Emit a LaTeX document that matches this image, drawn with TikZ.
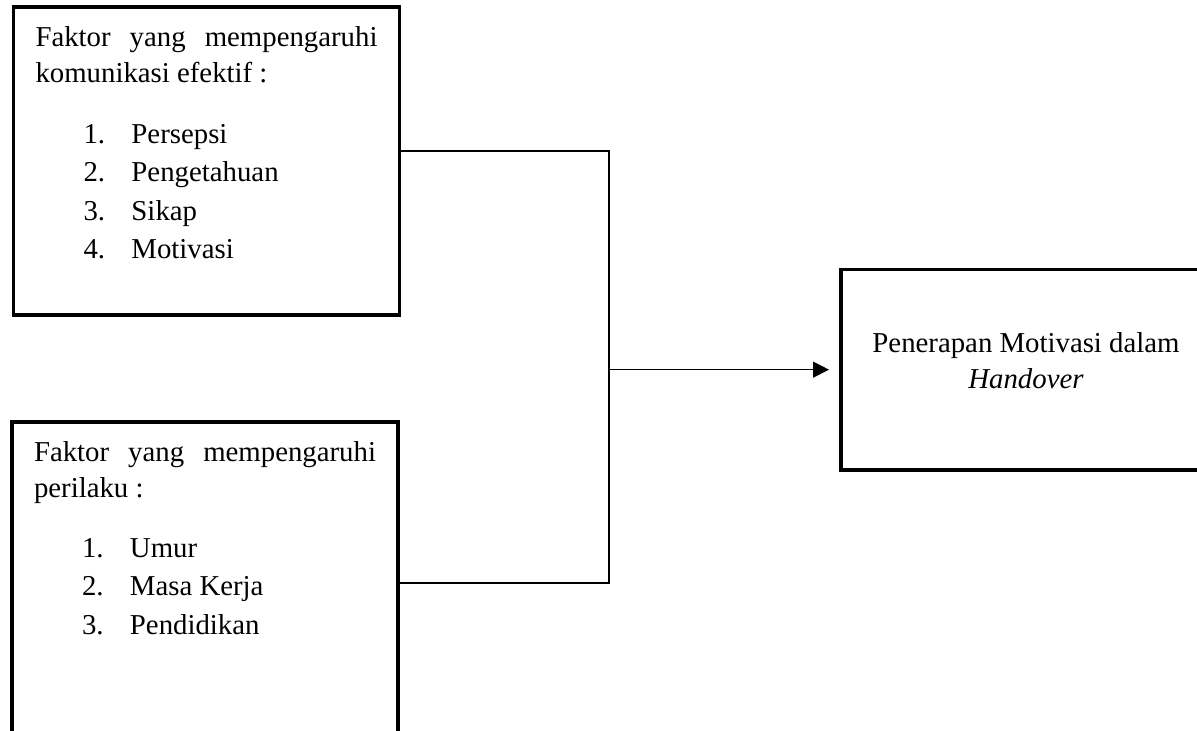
\documentclass[tikz,border=0pt]{standalone}
\usepackage{fontspec}
\setmainfont{Liberation Serif}
\usepackage{tikz}
\usetikzlibrary{arrows.meta}
\usetikzlibrary{positioning}

% One numbered entry of a factor list.
\newcommand{\factoritem}[2]{\hspace*{24pt}\makebox[24pt][l]{#1.}#2\par}

\begin{document}
\begin{tikzpicture}[
		x=0.5pt,
		y=-0.5pt,
		font=\fontsize{14.4}{18}\selectfont
		]
		\tikzstyle{factor box}=[
			rectangle,
			draw,
			line width=1.8pt,
			%rounded corners=1pt,
			inner xsep=11pt,
			inner ysep=10pt,
			outer sep=0pt
		]
		\tikzstyle{link}=[
			line width=0.6pt
		]
		\tikzstyle{arrow link}=[
			link,
			-{Triangle[length=8pt,width=8pt]},
			shorten >=6pt
		]
		% Fix the page to the size of the figure.
			\path[use as bounding box, clip] (0,0) rectangle (1197,730);
		% Draw the two factor boxes.
			\node[factor box, anchor=north west] (komunikasi) at (13.5,6.7) {%
				\parbox[c][134.15pt][t]{171pt}{%
					Faktor yang mempengaruhi\linebreak komunikasi efektif :\par
					\vspace{11pt}\baselineskip=19.25pt
					\factoritem{1}{Persepsi}
					\factoritem{2}{Pengetahuan}
					\factoritem{3}{Sikap}
					\factoritem{4}{Motivasi}}};
			\node[factor box, below=53.35pt of komunikasi.south west, anchor=north west, xshift=-0.75pt] (perilaku) {%
				\parbox[c][141.3pt][t]{171pt}{%
					Faktor yang mempengaruhi\linebreak perilaku :\par
					\vspace{10.5pt}\baselineskip=19.25pt
					\factoritem{1}{Umur}
					\factoritem{2}{Masa Kerja}
					\factoritem{3}{Pendidikan}}};
		% Draw the result box.
			\node[factor box, anchor=north west] (handover) at (841,269.3) {%
				\parbox[c][80.35pt][t]{163pt}{%
					\vspace*{21.4pt}\centering
					Penerapan Motivasi dalam\\
					\textit{Handover}}};
		% Join both factor boxes and lead to the result.
			\coordinate (bus) at (609,0);
			\coordinate (join) at (bus |- handover.west);
			\draw[link] ([yshift=4.9pt]komunikasi.east) -| (join);
			\draw[link] (perilaku.east) -| (join);
			\draw[arrow link] (join) -- (handover.west);
	\end{tikzpicture}
\end{document}
